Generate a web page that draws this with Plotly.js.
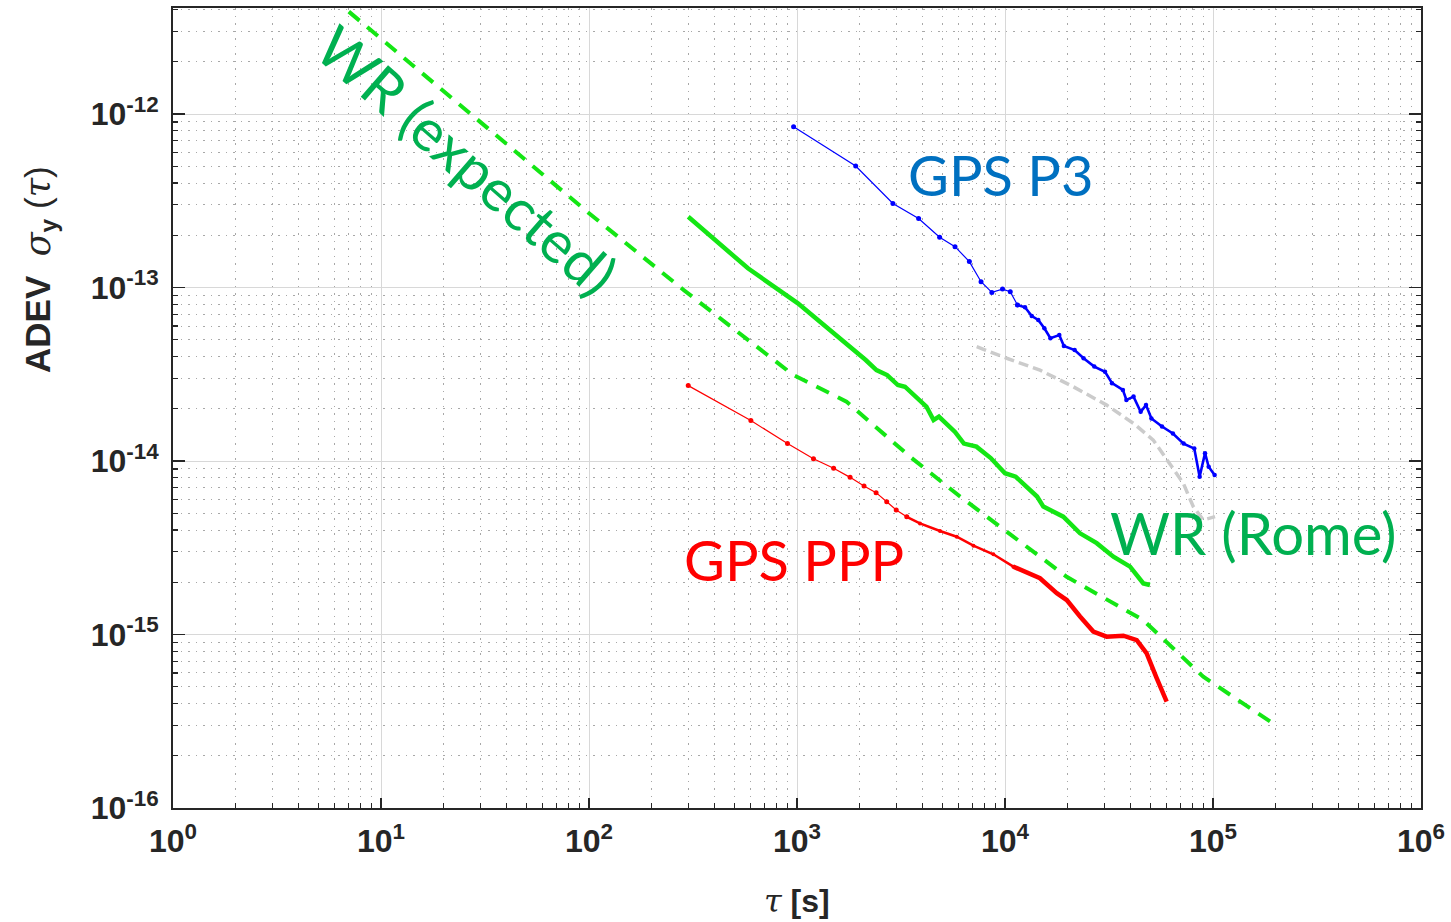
<!DOCTYPE html>
<html>
<head>
<meta charset="utf-8">
<script src="https://cdn.plot.ly/plotly-3.0.1.min.js"></script>
<style>html,body{margin:0;padding:0;background:#fff;}#chart{width:1451px;height:922px;}</style>
</head>
<body>
<div id="chart"></div>
<script>
// ---- data ----
const wrExpTau  = [7, 100, 285, 960, 1730, 3490, 6080, 11000, 19800, 46200, 89800, 196000];
const wrExpAdev = [3.89e-12, 2.68e-13, 9.68e-14, 3.13e-14, 2.20e-14, 1.06e-14, 6.24e-15, 3.66e-15, 2.15e-15, 1.21e-15, 5.71e-16, 3.05e-16];

const wrRomeTau  = [300, 581, 1010, 1442, 1828, 2140, 2410, 2712, 3055, 3305, 4188, 4535, 4810, 5750, 6346, 7290, 8540, 10000, 11250, 14260, 15290, 19060, 22950, 27600, 33200, 39920, 46260, 49760];
const wrRomeAdev = [2.56e-13, 1.29e-13, 8.11e-14, 5.69e-14, 4.46e-14, 3.82e-14, 3.34e-14, 3.13e-14, 2.74e-14, 2.68e-14, 2.06e-14, 1.72e-14, 1.80e-14, 1.47e-14, 1.26e-14, 1.21e-14, 1.04e-14, 8.50e-15, 8.12e-15, 6.24e-15, 5.46e-15, 4.78e-15, 3.83e-15, 3.36e-15, 2.81e-15, 2.46e-15, 1.97e-15, 1.93e-15];

const grayTau  = [7310, 10190, 14730, 21300, 30820, 41390, 51620, 62110, 71960, 80390, 89800, 102300];
const grayAdev = [4.56e-14, 3.91e-14, 3.34e-14, 2.68e-14, 2.10e-14, 1.65e-14, 1.32e-14, 9.70e-15, 7.45e-15, 5.46e-15, 4.57e-15, 4.78e-15];

const pppTau  = [300, 600, 900, 1200, 1500, 1800, 2100, 2400, 2700, 3000, 3370, 3900, 4870, 5860, 7050, 8790, 10970, 14730, 17740, 19810, 22950, 26580, 30820, 37070, 42990, 47990, 53600, 59870];
const pppAdev = [2.72e-14, 1.71e-14, 1.26e-14, 1.03e-14, 9.08e-15, 8.05e-15, 7.18e-15, 6.57e-15, 5.82e-15, 5.22e-15, 4.77e-15, 4.37e-15, 3.95e-15, 3.66e-15, 3.25e-15, 2.90e-15, 2.46e-15, 2.11e-15, 1.73e-15, 1.58e-15, 1.27e-15, 1.04e-15, 9.71e-16, 9.84e-16, 9.29e-16, 7.79e-16, 5.60e-16, 4.10e-16];

const p3Tau  = [963, 1915, 2891, 3843, 4850, 5750, 6740, 7670, 8645, 9730, 10600, 11480, 12480, 13450, 14450, 15460, 16530, 18240, 19190, 21620, 23870, 26870, 30260, 32690, 36870, 38340, 41500, 44900, 47640, 50580, 56860, 64150, 72220, 81300, 86230, 91570, 95300, 101800];
const p3Adev = [8.45e-13, 5.01e-13, 3.05e-13, 2.50e-13, 1.95e-13, 1.72e-13, 1.41e-13, 1.08e-13, 9.37e-14, 9.79e-14, 9.46e-14, 7.93e-14, 7.69e-14, 6.85e-14, 6.50e-14, 5.82e-14, 5.10e-14, 5.32e-14, 4.60e-14, 4.36e-14, 3.91e-14, 3.50e-14, 3.27e-14, 2.81e-14, 2.57e-14, 2.25e-14, 2.35e-14, 1.92e-14, 2.10e-14, 1.76e-14, 1.58e-14, 1.44e-14, 1.26e-14, 1.18e-14, 8.11e-15, 1.11e-14, 9.26e-15, 8.30e-15];

const xTickVals = [1, 10, 100, 1000, 10000, 100000, 1000000];
const xTickText = ['10<sup>0</sup>', '10<sup>1</sup>', '10<sup>2</sup>', '10<sup>3</sup>', '10<sup>4</sup>', '10<sup>5</sup>', '10<sup>6</sup>'];
const yTickVals = [1e-16, 1e-15, 1e-14, 1e-13, 1e-12];
const yTickText = ['10<sup>-16</sup>', '10<sup>-15</sup>', '10<sup>-14</sup>', '10<sup>-13</sup>', '10<sup>-12</sup>'];

const labelGpsP3 = 'GPS P3';
const labelGpsPPP = 'GPS PPP';
const labelWrRome = 'WR (Rome)';
const labelWrExp = 'WR (expected)';

// ---- minor tick positions (2..9 per decade) ----
function minorVals(e0, e1) {
  const v = [];
  for (let e = e0; e < e1; e++) for (let d = 2; d <= 9; d++) v.push(d * Math.pow(10, e));
  return v;
}

const axisCol = '#262626';
const tickFont = {family: 'Liberation Sans, Arial, sans-serif', size: 32, weight: 'bold', color: axisCol};

const traces = [
  {x: grayTau, y: grayAdev, mode: 'lines', line: {color: '#cbcbcb', width: 3.5, dash: '10px,5px'}},
  {x: wrExpTau, y: wrExpAdev, mode: 'lines', line: {color: '#14e614', width: 4, dash: '14px,10px'}},
  {x: wrRomeTau, y: wrRomeAdev, mode: 'lines', line: {color: '#14e614', width: 4.5}},
  {x: pppTau.slice(0, 11), y: pppAdev.slice(0, 11), mode: 'lines+markers', line: {color: '#ff0000', width: 1.2}, marker: {color: '#ff0000', size: 5}},
  {x: pppTau.slice(10, 17), y: pppAdev.slice(10, 17), mode: 'lines+markers', line: {color: '#ff0000', width: 2.5}, marker: {color: '#ff0000', size: 4}},
  {x: pppTau.slice(16), y: pppAdev.slice(16), mode: 'lines', line: {color: '#ff0000', width: 4.5}},
  {x: p3Tau.slice(0, 12), y: p3Adev.slice(0, 12), mode: 'lines+markers', line: {color: '#0000ff', width: 1.2}, marker: {color: '#0000ff', size: 5}},
  {x: p3Tau.slice(11), y: p3Adev.slice(11), mode: 'lines+markers', line: {color: '#0000ff', width: 2.6}, marker: {color: '#0000ff', size: 4.5}}
];

const L = 173, T = 8, W = 1248, H = 800;
function px2paperX(px) { return (px - L) / W; }
function px2paperY(py) { return (T + H - py) / H; }

const labelFont = 'Lato, Open Sans, sans-serif';
const minorGrid = {ticks: 'inside', ticklen: 5, tickwidth: 1.2, tickcolor: axisCol,
                   showgrid: true, gridcolor: '#a8a8a8', gridwidth: 1, griddash: '1.5px,6px'};
const layout = {
  width: 1451, height: 922,
  margin: {l: L, r: 1451 - L - W, t: T, b: 922 - T - H},
  paper_bgcolor: '#ffffff', plot_bgcolor: '#ffffff',
  showlegend: false,
  xaxis: {
    type: 'log', range: [0, 6], tickmode: 'array', tickvals: xTickVals, ticktext: xTickText,
    tickfont: tickFont, ticks: 'inside', ticklen: 10, tickwidth: 1.5, tickcolor: axisCol,
    showline: true, linecolor: axisCol, linewidth: 2, mirror: true, ticklabelstandoff: 4,
    showgrid: true, gridcolor: '#d8d8d8', gridwidth: 1, zeroline: false,
    minor: Object.assign({tickmode: 'array', tickvals: minorVals(0, 6)}, minorGrid)
  },
  yaxis: {
    type: 'log', range: [-16, -11.389], tickmode: 'array', tickvals: yTickVals, ticktext: yTickText,
    tickfont: tickFont, ticks: 'inside', ticklen: 12, tickwidth: 1.5, tickcolor: axisCol,
    showline: true, linecolor: axisCol, linewidth: 2, mirror: 'ticks', ticklabelstandoff: 6,
    showgrid: true, gridcolor: '#d8d8d8', gridwidth: 1, zeroline: false,
    minor: Object.assign({tickmode: 'array', tickvals: minorVals(-16, -11)}, minorGrid)
  },
  annotations: [
    {text: labelGpsP3, xref: 'paper', yref: 'paper', x: px2paperX(1000), y: px2paperY(174), showarrow: false,
     xanchor: 'center', yanchor: 'middle', font: {family: labelFont, size: 56, color: '#0070C0'}},
    {text: labelGpsPPP, xref: 'paper', yref: 'paper', x: px2paperX(794), y: px2paperY(559), showarrow: false,
     xanchor: 'center', yanchor: 'middle', font: {family: labelFont, size: 56, color: '#ff0000'}},
    {text: labelWrRome, xref: 'paper', yref: 'paper', x: px2paperX(1253), y: px2paperY(532), showarrow: false,
     xanchor: 'center', yanchor: 'middle', font: {family: labelFont, size: 58, color: '#00B050'}},
    {text: labelWrExp, xref: 'paper', yref: 'paper', x: px2paperX(467), y: px2paperY(160), showarrow: false,
     xanchor: 'center', yanchor: 'middle', textangle: 41, font: {family: labelFont, size: 58, color: '#00B050'}},
    {text: '<b>ADEV</b>  <span style="font-family:DejaVu Serif"><i>σ</i></span><sub><b>y</b></sub> (<span style="font-family:DejaVu Serif"><i>τ</i></span>)',
     xref: 'paper', yref: 'paper', x: px2paperX(40), y: px2paperY(270), showarrow: false, textangle: -90,
     xanchor: 'center', yanchor: 'middle', font: {family: 'Liberation Sans, Arial, sans-serif', size: 35, color: axisCol}},
    {text: '<span style="font-family:DejaVu Serif"><i>τ</i></span> <b>[s]</b>',
     xref: 'paper', yref: 'paper', x: 0.5, y: px2paperY(901), showarrow: false,
     xanchor: 'center', yanchor: 'middle', font: {family: 'Liberation Sans, Arial, sans-serif', size: 32, color: axisCol}}
  ]
};

Plotly.newPlot('chart', traces, layout, {staticPlot: true, displayModeBar: false});
</script>
</body>
</html>
